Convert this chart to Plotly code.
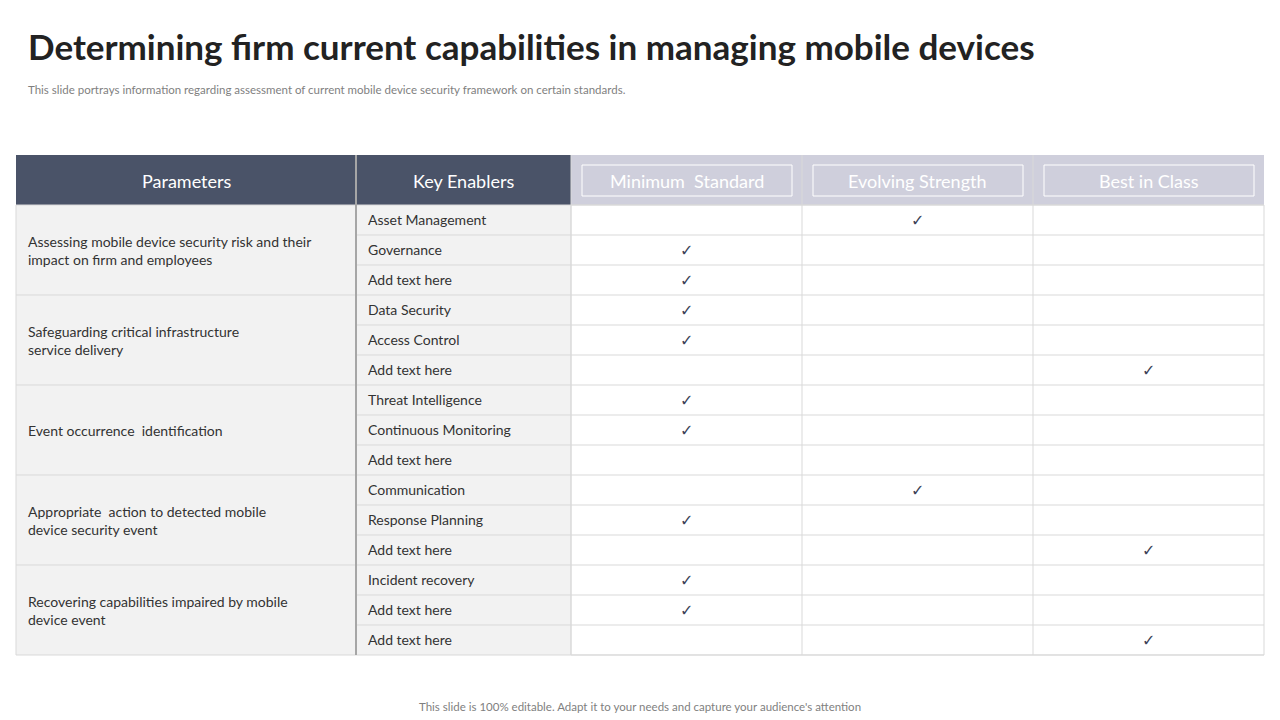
import plotly.graph_objects as go

title = "Determining firm current capabilities in managing mobile devices"
subtitle = "This slide portrays information regarding assessment of current mobile device security framework on certain standards."
footer = "This slide is 100% editable. Adapt it to your needs and capture your audience's attention"

headers = ["Parameters", "Key Enablers", "Minimum  Standard", "Evolving Strength", "Best in Class"]
parameters = [
    "Assessing mobile device security risk and their<br>impact on firm and employees",
    "Safeguarding critical infrastructure<br>service delivery",
    "Event occurrence  identification",
    "Appropriate  action to detected mobile<br>device security event",
    "Recovering capabilities impaired by mobile<br>device event",
]
enablers = [
    "Asset Management", "Governance", "Add text here",
    "Data Security", "Access Control", "Add text here",
    "Threat Intelligence", "Continuous Monitoring", "Add text here",
    "Communication", "Response Planning", "Add text here",
    "Incident recovery", "Add text here", "Add text here",
]
# which standard column is ticked for each enabler (0 min, 1 evolving, 2 best, None)
ticks = [1, 0, 0, 0, 0, 2, 0, 0, None, 1, 0, 2, 0, 0, 2]

col_x = [16, 356, 571, 802, 1033, 1264]
top, head_h, row_h = 155, 50, 30
dark, light = "#4a5368", "#cfcfdc"
grid = "#d9d9d9"
font = "Lato"

fig = go.Figure()
shapes, ann = [], []

# header
for i, h in enumerate(headers):
    x0, x1 = col_x[i], col_x[i + 1]
    shapes.append(dict(type="rect", x0=x0, x1=x1, y0=top, y1=top + head_h,
                       fillcolor=dark if i < 2 else light, line=dict(width=0), layer="below"))
    if i >= 2:
        shapes.append(dict(type="rect", x0=x0 + 11, x1=x1 - 10, y0=top + 10, y1=top + 41,
                           fillcolor="rgba(0,0,0,0)", line=dict(color="white", width=1)))
    ann.append(dict(x=(x0 + x1) / 2, y=top + head_h / 2 + 1, text=h, showarrow=False,
                    font=dict(family=font, size=18, color="white")))

body_top = top + head_h
n = len(enablers)
body_bot = body_top + n * row_h
# backgrounds
shapes.append(dict(type="rect", x0=col_x[0], x1=col_x[2], y0=body_top, y1=body_bot,
                   fillcolor="#f2f2f2", line=dict(width=0), layer="below"))
shapes.append(dict(type="rect", x0=col_x[2], x1=col_x[5], y0=body_top, y1=body_bot,
                   fillcolor="white", line=dict(color=grid, width=1), layer="below"))

for r, e in enumerate(enablers):
    y0 = body_top + r * row_h
    x_start = col_x[0] if r % 3 == 0 else col_x[1]
    shapes.append(dict(type="line", x0=x_start, x1=col_x[5], y0=y0, y1=y0,
                       line=dict(color=grid, width=1)))
    ann.append(dict(x=col_x[1] + 10, y=y0 + row_h / 2 - 1, text=e, showarrow=False, xanchor="left",
                    font=dict(family=font, size=14, color="#333333")))
    if ticks[r] is not None:
        c = 2 + ticks[r]
        ann.append(dict(x=(col_x[c] + col_x[c + 1]) / 2, y=y0 + row_h / 2, text="✓", showarrow=False,
                        font=dict(family="DejaVu Sans", size=16, color="#3b4256")))
shapes.append(dict(type="line", x0=col_x[0], x1=col_x[5], y0=body_bot, y1=body_bot,
                   line=dict(color=grid, width=1)))

for g, p in enumerate(parameters):
    yc = body_top + (g * 3 + 1.5) * row_h
    ann.append(dict(x=col_x[0] + 10, y=yc, text=p, showarrow=False, xanchor="left", align="left",
                    font=dict(family=font, size=14, color="#333333")))

for x in col_x[2:5]:
    shapes.append(dict(type="line", x0=x, x1=x, y0=top, y1=body_bot, line=dict(color=grid, width=1)))
shapes.append(dict(type="line", x0=col_x[0], x1=col_x[0], y0=body_top, y1=body_bot, line=dict(color=grid, width=1)))
shapes.append(dict(type="line", x0=col_x[1], x1=col_x[1], y0=top, y1=body_bot, line=dict(color="#a6a6a6", width=2)))

ann.append(dict(x=26, y=46, text="<b>" + title + "</b>", showarrow=False, xanchor="left",
                font=dict(family=font, size=35, color="#222222")))
ann.append(dict(x=26, y=89, text=subtitle, showarrow=False, xanchor="left",
                font=dict(family=font, size=11.5, color="#7f7f7f")))
ann.append(dict(x=640, y=706, text=footer, showarrow=False,
                font=dict(family=font, size=11.5, color="#7f7f7f")))

# page shows an 8px offset, so shift the view window
fig.update_layout(width=1280, height=720, margin=dict(l=0, r=0, t=0, b=0),
                  plot_bgcolor="white", paper_bgcolor="white", shapes=shapes, annotations=ann,
                  xaxis=dict(range=[8, 1288], visible=False, fixedrange=True),
                  yaxis=dict(range=[728, 8], visible=False, fixedrange=True),
                  showlegend=False)
fig.write_html("out.html")
